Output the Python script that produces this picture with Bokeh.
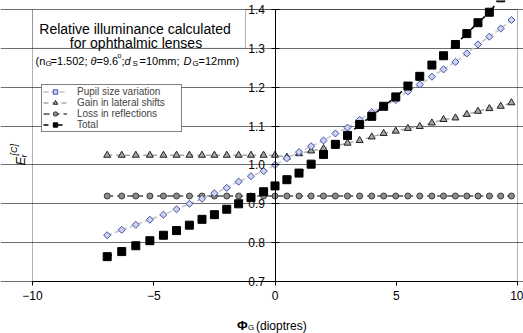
import math
from bokeh.plotting import figure
from bokeh.models import Label, BoxAnnotation, Legend, LegendItem, FixedTicker, Range1d, PrintfTickFormatter
from bokeh.embed import file_html
from bokeh.resources import INLINE

# ---------------- data ----------------
phi = [-6.92, -6.32, -5.74, -5.16, -4.60, -4.06, -3.53, -3.01, -2.50, -1.99, -1.50, -0.99, -0.47, 0.00,
       0.49, 0.99, 1.49, 2.00, 2.49, 2.99, 3.49, 3.99, 4.48, 4.98, 5.48, 5.97, 6.47, 6.95, 7.44, 7.91,
       8.37, 8.84, 9.31, 9.75]
pupil = [0.819, 0.833, 0.846, 0.859, 0.872, 0.886, 0.900, 0.913, 0.927, 0.941, 0.957, 0.971, 0.984, 1.000,
         1.017, 1.033, 1.048, 1.063, 1.081, 1.096, 1.116, 1.136, 1.151, 1.167, 1.189, 1.207, 1.227, 1.246,
         1.265, 1.287, 1.310, 1.330, 1.351, 1.373]
gain = [1.025, 1.025, 1.025, 1.025, 1.025, 1.025, 1.025, 1.025, 1.025, 1.025, 1.025, 1.025, 1.025, 1.025,
        1.020, 1.029, 1.036, 1.042, 1.049, 1.056, 1.063, 1.072, 1.081, 1.087, 1.094, 1.099, 1.108, 1.117,
        1.121, 1.130, 1.138, 1.145, 1.151, 1.160]
loss = [0.920, 0.920, 0.920, 0.920, 0.920, 0.920, 0.920, 0.920, 0.920, 0.920, 0.920, 0.920, 0.920, 0.920,
        0.920, 0.920, 0.920, 0.920, 0.920, 0.920, 0.920, 0.920, 0.920, 0.920, 0.920, 0.920, 0.920, 0.920,
        0.920, 0.920, 0.920, 0.920, 0.920, 0.920]
total = [0.764, 0.777, 0.792, 0.805, 0.819, 0.831, 0.845, 0.860, 0.872, 0.886, 0.900, 0.916, 0.931, 0.946,
         0.962, 0.979, 1.002, 1.027, 1.053, 1.076, 1.104, 1.125, 1.151, 1.175, 1.203, 1.228, 1.257, 1.281,
         1.310, 1.338, 1.366, 1.393, 1.430, 1.460]
series_names = ["Pupil size variation", "Gain in lateral shifts", "Loss in reflections", "Total"]
x_ticks = [-10, -5, 0, 5, 10]
y_ticks = [0.7, 0.8, 0.9, 1.0, 1.1, 1.2, 1.3, 1.4]
X_LIM = (-10, 10)
Y_LIM = (0.7, 1.4)

FONT = "Liberation Sans"
W, H = 523, 333
# pixel placement of the chart box inside the canvas
PX_L, PX_R, PX_T, PX_B = 32.0, 517.0, 9.0, 281.0
sx = (PX_R - PX_L) / (X_LIM[1] - X_LIM[0])
sy = (PX_B - PX_T) / (Y_LIM[1] - Y_LIM[0])
x_range = Range1d(X_LIM[0] - PX_L / sx, X_LIM[1] + (W - PX_R) / sx)
y_range = Range1d(Y_LIM[0] - (H - PX_B) / sy, Y_LIM[1] + PX_T / sy)


def X(px):
    return X_LIM[0] + (px - PX_L) / sx


def Y(py):
    return Y_LIM[0] + (PX_B - py) / sy


p = figure(width=W, height=H, x_range=x_range, y_range=y_range,
           output_backend="svg", toolbar_location=None,
           min_border=0, min_border_left=0, min_border_right=0, min_border_top=0, min_border_bottom=0)
p.background_fill_color = "white"
p.border_fill_color = "white"
p.outline_line_color = None

p.xgrid.visible = False
p.ygrid.ticker = FixedTicker(ticks=y_ticks)
p.ygrid.bounds = X_LIM
p.ygrid.grid_line_color = "#6e6e6e"
p.ygrid.grid_line_width = 1

# chart box border
p.add_layout(BoxAnnotation(left=X_LIM[0], right=X_LIM[1], bottom=Y_LIM[0], top=Y_LIM[1],
                           fill_alpha=0, line_color="black", line_width=1, level="underlay"))

p.xaxis.fixed_location = Y_LIM[0]
p.xaxis.bounds = X_LIM
p.xaxis.ticker = FixedTicker(ticks=x_ticks)
p.xaxis.axis_line_color = "black"
p.xaxis.major_tick_line_color = "black"
p.xaxis.major_tick_out = 4
p.xaxis.major_tick_in = 0
p.xaxis.minor_tick_line_color = None
p.xaxis.major_label_text_font = FONT
p.xaxis.major_label_text_font_size = "12px"
p.xaxis.major_label_text_color = "black"
p.xaxis.major_label_standoff = 5

p.yaxis.fixed_location = 0
p.yaxis.bounds = Y_LIM
p.yaxis.ticker = FixedTicker(ticks=y_ticks)
p.yaxis.formatter = PrintfTickFormatter(format="%.1f")
p.yaxis.axis_line_color = "black"
p.yaxis.major_tick_line_color = "black"
p.yaxis.major_tick_out = 4
p.yaxis.major_tick_in = 4
p.yaxis.minor_tick_line_color = None
p.yaxis.major_label_text_font = FONT
p.yaxis.major_label_text_font_size = "12px"
p.yaxis.major_label_text_color = "black"
p.yaxis.major_label_standoff = 6

# ---------------- series ----------------
l_loss = p.line(phi, loss, line_color="#7a7a7a", line_width=2, line_dash="6 4")
m_loss = p.scatter(phi, loss, marker="circle", size=6, fill_color="#8c8c8c", line_color="#3c3c3c", line_width=1)
l_gain = p.line(phi, gain, line_color="#a8a8a8", line_width=1.5, line_dash="5 4")
m_gain = p.scatter(phi, gain, marker="triangle", size=7, fill_color="#a6a6a6", line_color="#202020", line_width=1)
l_pup = p.line(phi, pupil, line_color="#c4c4c4", line_width=1.5, line_dash="5 3")
m_pup = p.scatter(phi, pupil, marker="square", angle=math.pi / 4, size=5, fill_color="#cfd3ea",
                  line_color="#3f4fae", line_width=1)
l_tot = p.line(phi, total, line_color="black", line_width=1.5, line_dash="5 9")
m_tot = p.scatter(phi, total, marker="square", size=8, fill_color="black", line_color="black")

legend = Legend(items=[
    LegendItem(label=series_names[0], renderers=[l_pup, m_pup]),
    LegendItem(label=series_names[1], renderers=[l_gain, m_gain]),
    LegendItem(label=series_names[2], renderers=[l_loss, m_loss]),
    LegendItem(label=series_names[3], renderers=[l_tot, m_tot]),
], location=(41, H - 132))
legend.label_text_font = FONT
legend.label_text_font_size = "10px"
legend.label_height = 11
legend.glyph_height = 11
legend.glyph_width = 24
legend.label_standoff = 10
legend.label_width = 103
legend.spacing = 0
legend.padding = 1
legend.margin = 0
legend.border_line_color = "black"
legend.border_line_width = 1
legend.background_fill_color = "white"
legend.background_fill_alpha = 1
p.add_layout(legend, "center")


# ---------------- annotations (positions given in reference pixels) ----------------
def lab(txt, px, py, size, style="normal", align="left", angle=0.0, baseline="alphabetic"):
    p.add_layout(Label(x=X(px), y=Y(py), text=txt, text_font=FONT, text_font_size=size,
                       text_font_style=style, text_align=align, text_baseline=baseline,
                       text_color="black", angle=angle))


box = BoxAnnotation(left=X_LIM[0], right=X(245), bottom=1.3, top=Y_LIM[1], fill_color="white", fill_alpha=1,
                    line_color="black", line_width=1, level="annotation")
p.add_layout(box)

lab("Relative illuminance calculated", 134.5, 28, "14px", align="center")
lab("for ophthalmic lenses", 135.5, 42, "14px", align="center")

# parameter line
lab("(n", 35, 60, "11px")
lab("G", 45, 62.5, "8px")
lab("=1.502;", 50, 60, "11px")
lab("\u03b8", 90, 60, "11px", style="italic")
lab("=9.6", 96, 60, "11px")
lab("o", 117, 55, "7px")
lab(";", 121, 60, "11px")
lab("d", 124, 60, "11px", style="italic")
lab("S", 132, 62.5, "8px")
lab("=10mm;", 139, 60, "11px")
lab("D", 183, 60, "11px", style="italic")
lab("G", 192, 62.5, "8px")
lab("=12mm)", 198, 60, "11px")

# y axis title E_r^[C] (rotated)
lab("E", 20, 165, "13px", style="italic", angle=math.pi / 2)
lab("r", 23, 157, "9px", style="italic", angle=math.pi / 2)
lab("[C]", 13, 155, "9px", style="italic", angle=math.pi / 2)

# x axis title Phi_G (dioptres)
lab("\u03a6", 236.5, 325, "13px", style="bold")
lab("G", 247.5, 327, "8px")
lab("(dioptres)", 255.5, 325, "12px")

open("out.html", "w").write(file_html(p, INLINE))
